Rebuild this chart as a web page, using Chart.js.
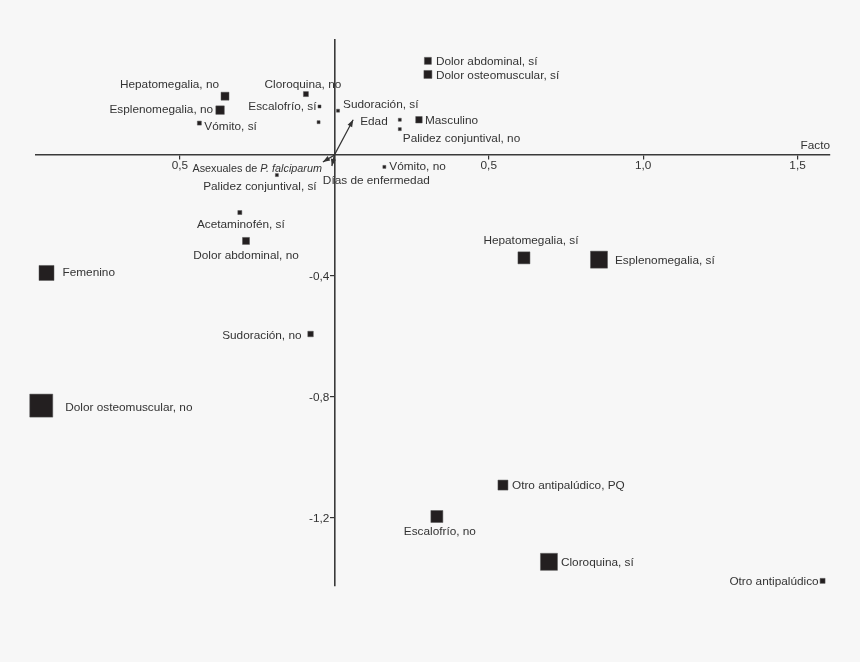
<!DOCTYPE html>
<html>
<head>
<meta charset="utf-8">
<script src="https://cdn.jsdelivr.net/npm/chart.js@4.4.1/dist/chart.umd.min.js"></script>
<style>
  html, body { margin: 0; padding: 0; background: #f7f7f7; }
  #wrap { width: 860px; height: 662px; }
</style>
</head>
<body>
<div id="wrap"><canvas id="chart"></canvas></div>
<script>
// Category points (factor 1, factor 2)
const pointLabels = [
  'Dolor abdominal, sí', 'Dolor osteomuscular, sí', 'Hepatomegalia, no', 'Esplenomegalia, no',
  'Vómito, sí', 'Cloroquina, no', 'Escalofrío, sí', '', 'Sudoración, sí', '', 'Masculino',
  'Palidez conjuntival, no', 'Vómito, no', 'Palidez conjuntival, sí', 'Acetaminofén, sí',
  'Dolor abdominal, no', 'Femenino', 'Dolor osteomuscular, no', 'Hepatomegalia, sí',
  'Esplenomegalia, sí', 'Sudoración, no', 'Otro antipalúdico, PQ', 'Escalofrío, no',
  'Cloroquina, sí', 'Otro antipalúdico'
];
const pointX = [0.303, 0.303, -0.354, -0.370, -0.437, -0.092, -0.048, -0.051, 0.012, 0.212, 0.274,
  0.212, 0.162, -0.186, -0.306, -0.286, -0.932, -0.949, 0.614, 0.857, -0.077, 0.546, 0.332, 0.695, 1.581];
const pointY = [0.312, 0.267, 0.195, 0.149, 0.106, 0.202, 0.161, 0.109, 0.147, 0.117, 0.117,
  0.086, -0.039, -0.066, -0.190, -0.284, -0.390, -0.829, -0.340, -0.346, -0.592, -1.092, -1.196, -1.346, -1.409];

// Continuous variables drawn as vectors from the origin
const vectorLabels = ['Edad', 'Asexuales de P. falciparum', 'Días de enfermedad'];
const vectorX = [0.061, -0.037, -0.008];
const vectorY = [0.117, -0.0225, -0.036];

const xTickValues = [-0.5, 0.5, 1.0, 1.5];
const xTickLabels = ['0,5', '0,5', '1,0', '1,5'];
const yTickValues = [-0.4, -0.8, -1.2];
const yTickLabels = ['-0,4', '-0,8', '-1,2'];
const xAxisTitle = 'Facto';

// style: marker side in px, label placement [align, dx, dy]
const markerSide = [7, 8, 8, 8.5, 4, 5, 3, 3, 3, 3, 6.5, 3, 3, 3, 4, 7, 15, 23, 12, 17, 5.5, 10, 12, 17, 5];
const labelPlace = [
  ['left', 8, 1], ['left', 8, 1], ['right', -6, -11], ['right', -7, 0], ['left', 5, 4],
  ['center', -3, -9], ['right', -3, 0], null, ['left', 5, -6], null, ['left', 6, 1],
  ['left', 3, 10], ['left', 5, 0], ['center', -17, 12], ['center', 1, 12],
  ['center', 0, 15], ['left', 16, 0], ['left', 24, 2], ['center', 7, -17],
  ['left', 16, 1], ['right', -9, 2], ['left', 9, 1], ['center', 3, 15],
  ['left', 12, 1], ['right', -4, 1]
];
const vectorLabelPlace = [['left', 7, 2], ['right', -1, 7], ['left', -9, 15]];

const inkColor = '#333333';
const markColor = '#231f20';
const fontFamily = '"Liberation Sans", Arial, Helvetica, sans-serif';
const fontSize = 11.8;

const scatterData = pointX.map((x, i) => ({ x: x, y: pointY[i] }));

const vectorDatasets = vectorX.map((x, i) => ({
  type: 'line',
  label: vectorLabels[i],
  data: [{ x: 0, y: 0 }, { x: x, y: vectorY[i] }],
  borderColor: inkColor,
  borderWidth: 1.2,
  pointRadius: 0,
  fill: false
}));

const labelPlugin = {
  id: 'labelPlugin',
  afterDatasetsDraw(chart) {
    const ctx = chart.ctx;
    const xs = chart.scales.x;
    const ys = chart.scales.y;
    ctx.save();
    ctx.fillStyle = inkColor;
    ctx.textBaseline = 'middle';

    // point labels
    ctx.font = fontSize + 'px ' + fontFamily;
    pointLabels.forEach((text, i) => {
      if (!text || !labelPlace[i]) return;
      const [align, dx, dy] = labelPlace[i];
      ctx.textAlign = align;
      ctx.fillText(text, xs.getPixelForValue(pointX[i]) + dx, ys.getPixelForValue(pointY[i]) + dy);
    });

    const ox = xs.getPixelForValue(0);
    const oy = ys.getPixelForValue(0);

    // y tick labels, left of the centred axis
    ctx.textAlign = 'right';
    yTickValues.forEach((v, i) => {
      ctx.fillText(yTickLabels[i], ox - 5, ys.getPixelForValue(v) + 1);
    });

    // arrowheads and vector labels
    vectorX.forEach((vx, i) => {
      const tx = xs.getPixelForValue(vx);
      const ty = ys.getPixelForValue(vectorY[i]);
      const ang = Math.atan2(ty - oy, tx - ox);
      const len = 7, half = 2.6;
      ctx.beginPath();
      ctx.moveTo(tx, ty);
      ctx.lineTo(tx - len * Math.cos(ang) + half * Math.sin(ang), ty - len * Math.sin(ang) - half * Math.cos(ang));
      ctx.lineTo(tx - len * Math.cos(ang) - half * Math.sin(ang), ty - len * Math.sin(ang) + half * Math.cos(ang));
      ctx.closePath();
      ctx.fill();

      const [align, dx, dy] = vectorLabelPlace[i];
      const text = vectorLabels[i];
      const lx = tx + dx, ly = ty + dy;
      const italicPart = 'P. falciparum';
      if (text.indexOf(italicPart) >= 0) {
        const plain = text.replace(italicPart, '');
        ctx.font = '10.8px ' + fontFamily;
        const w1 = ctx.measureText(plain).width;
        ctx.font = 'italic 10.8px ' + fontFamily;
        const w2 = ctx.measureText(italicPart).width;
        let start = align === 'right' ? lx - w1 - w2 : (align === 'center' ? lx - (w1 + w2) / 2 : lx);
        ctx.textAlign = 'left';
        ctx.font = '10.8px ' + fontFamily;
        ctx.fillText(plain, start, ly);
        ctx.font = 'italic 10.8px ' + fontFamily;
        ctx.fillText(italicPart, start + w1, ly);
      } else {
        ctx.font = fontSize + 'px ' + fontFamily;
        ctx.textAlign = align;
        ctx.fillText(text, lx, ly);
      }
    });

    // axis title (cut at the edge, as in the original)
    ctx.font = fontSize + 'px ' + fontFamily;
    ctx.textAlign = 'right';
    ctx.fillText(xAxisTitle, chart.chartArea.right, oy - 9);
    ctx.restore();
  }
};

const ctx = document.getElementById('chart').getContext('2d');
new Chart(ctx, {
  type: 'scatter',
  data: {
    datasets: [{
      label: 'Categorías',
      data: scatterData,
      clip: false,
      pointStyle: 'rect',
      pointRadius: markerSide.map(s => s / Math.SQRT2),
      pointHoverRadius: markerSide.map(s => s / Math.SQRT2),
      backgroundColor: markColor,
      borderColor: '#555555',
      borderWidth: 0.5
    }].concat(vectorDatasets)
  },
  options: {
    responsive: true,
    maintainAspectRatio: false,
    animation: false,
    layout: { padding: { left: 36, right: 30, top: 40, bottom: 76 } },
    plugins: {
      legend: { display: false },
      tooltip: { enabled: false }
    },
    scales: {
      x: {
        type: 'linear',
        position: { y: 0 },
        min: -0.966,
        max: 1.605,
        afterBuildTicks: scale => { scale.ticks = xTickValues.map(v => ({ value: v })); },
        ticks: {
          autoSkip: false,
          maxRotation: 0,
          padding: 0,
          color: inkColor,
          font: { family: fontFamily, size: fontSize },
          callback: (value, index) => xTickLabels[index]
        },
        grid: { drawOnChartArea: false, drawTicks: true, tickLength: 4, color: inkColor, lineWidth: 1.2 },
        border: { display: true, color: '#3a3a3a', width: 1.6 }
      },
      y: {
        type: 'linear',
        position: { x: 0 },
        min: -1.426,
        max: 0.381,
        afterBuildTicks: scale => { scale.ticks = yTickValues.map(v => ({ value: v })); },
        ticks: { display: false },
        grid: { drawOnChartArea: false, drawTicks: true, tickLength: 4, color: inkColor, lineWidth: 1.2 },
        border: { display: true, color: '#3a3a3a', width: 1.6 }
      }
    }
  },
  plugins: [labelPlugin]
});
</script>
</body>
</html>
